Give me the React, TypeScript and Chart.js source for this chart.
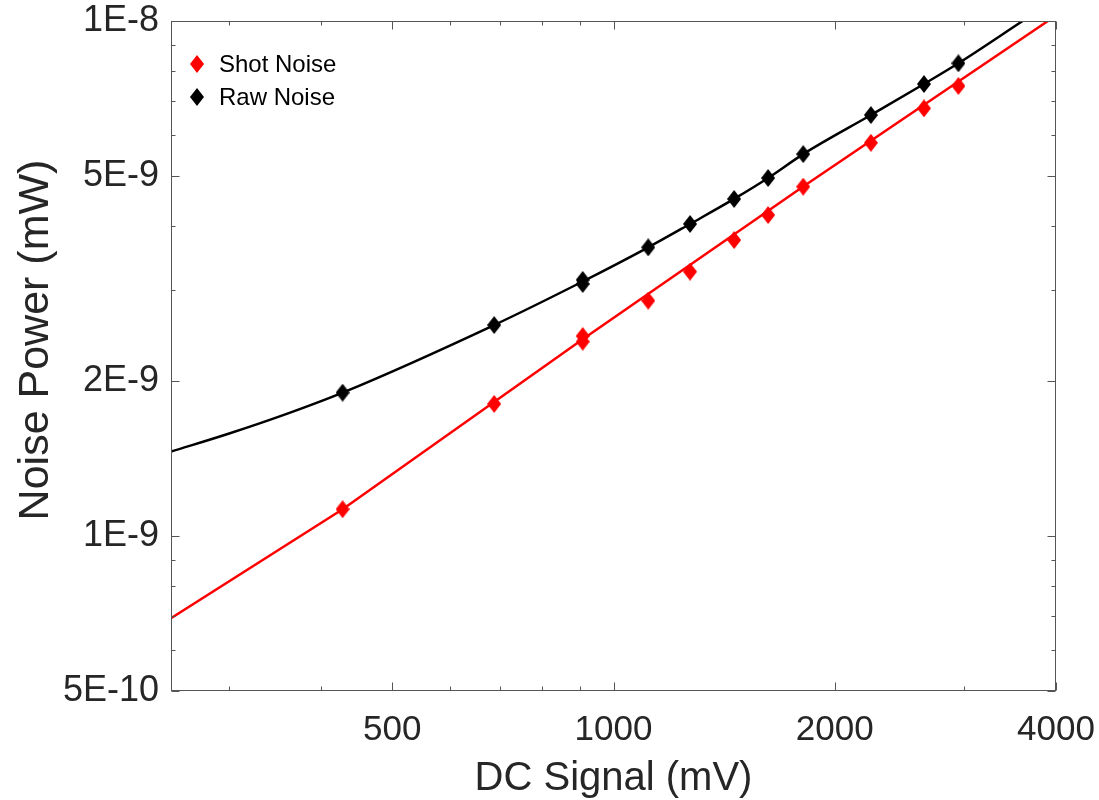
import React, { useEffect, useRef } from 'react';
import { Chart, registerables } from 'chart.js';

Chart.register(...registerables);

// ---- Data ----
const seriesNames = ['Shot Noise', 'Raw Noise'];

const signalMV = [428, 688, 908, 908, 1115, 1271, 1459, 1623, 1812, 2240, 2645, 2946];
const shotNoise = [1.127e-9, 1.805e-9, 2.384e-9, 2.445e-9, 2.864e-9, 3.26e-9, 3.756e-9, 4.2e-9, 4.768e-9, 5.801e-9, 6.767e-9, 7.478e-9];
const rawNoise = [1.898e-9, 2.568e-9, 3.142e-9, 3.086e-9, 3.635e-9, 4.035e-9, 4.513e-9, 4.956e-9, 5.515e-9, 6.568e-9, 7.545e-9, 8.277e-9];

const shotFitX = [250, 428, 908, 1812, 3900];
const shotFitY = [6.92e-10, 1.127e-9, 2.41e-9, 4.77e-9, 1e-8];
const rawFitX = [250, 300, 360, 428, 688, 908, 1115, 1271, 1459, 1623, 1812, 2240, 2645, 2946, 3603];
const rawFitY = [1.458e-9, 1.581e-9, 1.728e-9, 1.898e-9, 2.568e-9, 3.12e-9, 3.635e-9, 4.035e-9, 4.513e-9, 4.956e-9, 5.515e-9, 6.568e-9, 7.545e-9, 8.277e-9, 1e-8];

const xMajorTicks = [500, 1000, 2000, 4000];
const xMajorLabels = ['500', '1000', '2000', '4000'];
const xMinorTicks = [300, 400, 600, 700, 800, 900, 3000];
const yMajorTicks = [5e-10, 1e-9, 2e-9, 5e-9, 1e-8];
const yMajorLabels = ['5E-10', '1E-9', '2E-9', '5E-9', '1E-8'];
const yMinorTicks = [6e-10, 7e-10, 8e-10, 9e-10, 3e-9, 4e-9, 6e-9, 7e-9, 8e-9, 9e-9];

const xTitle = 'DC Signal (mV)';
const yTitle = 'Noise Power (mW)';

const seriesColors = ['#ff0000', '#000000'];
const FONT = '"Liberation Sans", Arial, Helvetica, sans-serif';
const TEXT = '#262626';

function labelFor(v: number, ticks: number[], labels: string[]) {
  for (let i = 0; i < ticks.length; i++) {
    if (Math.abs(v - ticks[i]) <= ticks[i] * 1e-6) return labels[i];
  }
  return '';
}

function makeDiamond(color: string) {
  const c = document.createElement('canvas');
  c.width = 14;
  c.height = 18;
  const g = c.getContext('2d')!;
  g.fillStyle = color;
  g.beginPath();
  g.moveTo(7, 0);
  g.lineTo(14, 9);
  g.lineTo(7, 18);
  g.lineTo(0, 9);
  g.closePath();
  g.fill();
  return c;
}

const framePlugin = {
  id: 'matlabFrame',
  afterDatasetsDraw(chart: any) {
    const { ctx, chartArea, scales } = chart;
    const l = Math.round(chartArea.left) + 0.5;
    const r = Math.round(chartArea.right) - 0.5;
    const t = Math.round(chartArea.top) + 0.5;
    const b = Math.round(chartArea.bottom) - 0.5;
    ctx.save();
    ctx.strokeStyle = '#555555';
    ctx.lineWidth = 1;
    ctx.strokeRect(l, t, r - l, b - t);
    const drawX = (vals: number[], len: number) => {
      vals.forEach((v) => {
        const px = Math.round(scales.x.getPixelForValue(v)) + 0.5;
        ctx.beginPath();
        ctx.moveTo(px, b);
        ctx.lineTo(px, b - len);
        ctx.moveTo(px, t);
        ctx.lineTo(px, t + len);
        ctx.stroke();
      });
    };
    const drawY = (vals: number[], len: number) => {
      vals.forEach((v) => {
        const py = Math.round(scales.y.getPixelForValue(v)) + 0.5;
        ctx.beginPath();
        ctx.moveTo(l, py);
        ctx.lineTo(l + len, py);
        ctx.moveTo(r, py);
        ctx.lineTo(r - len, py);
        ctx.stroke();
      });
    };
    drawX(xMajorTicks, 8);
    drawX(xMinorTicks, 4);
    drawY(yMajorTicks, 8);
    drawY(yMinorTicks, 4);

    // legend (inside upper-left)
    const rows = [64, 97];
    seriesNames.forEach((name, i) => {
      const cy = rows[i];
      const cx = 197;
      ctx.fillStyle = seriesColors[i];
      ctx.beginPath();
      ctx.moveTo(cx, cy - 9);
      ctx.lineTo(cx + 7, cy);
      ctx.lineTo(cx, cy + 9);
      ctx.lineTo(cx - 7, cy);
      ctx.closePath();
      ctx.fill();
      ctx.fillStyle = '#000000';
      ctx.font = `24px ${FONT}`;
      ctx.textBaseline = 'middle';
      ctx.textAlign = 'left';
      ctx.fillText(name, 219, cy + 1);
    });

    // y axis title
    ctx.save();
    ctx.translate(48, 340);
    ctx.rotate(-Math.PI / 2);
    ctx.fillStyle = TEXT;
    ctx.font = `43px ${FONT}`;
    ctx.textAlign = 'center';
    ctx.textBaseline = 'alphabetic';
    ctx.fillText(yTitle, 0, 0);
    ctx.restore();

    ctx.restore();
  },
};

export default function App() {
  const ref = useRef<HTMLCanvasElement | null>(null);

  useEffect(() => {
    if (!ref.current) return;
    const redD = makeDiamond(seriesColors[0]);
    const blackD = makeDiamond(seriesColors[1]);
    const chart = new Chart(ref.current, {
      type: 'scatter',
      data: {
        datasets: [
          {
            label: seriesNames[0],
            data: signalMV.map((x, i) => ({ x, y: shotNoise[i] })),
            pointStyle: redD as any,
            pointRadius: 9,
            backgroundColor: seriesColors[0],
            borderColor: seriesColors[0],
            showLine: false,
          },
          {
            label: seriesNames[1],
            data: signalMV.map((x, i) => ({ x, y: rawNoise[i] })),
            pointStyle: blackD as any,
            pointRadius: 9,
            backgroundColor: seriesColors[1],
            borderColor: seriesColors[1],
            showLine: false,
          },
          {
            label: 'Shot fit',
            data: shotFitX.map((x, i) => ({ x, y: shotFitY[i] })),
            showLine: true,
            borderColor: seriesColors[0],
            borderWidth: 2.5,
            pointRadius: 0,
          },
          {
            label: 'Raw fit',
            data: rawFitX.map((x, i) => ({ x, y: rawFitY[i] })),
            showLine: true,
            borderColor: seriesColors[1],
            borderWidth: 2.5,
            pointRadius: 0,
            cubicInterpolationMode: 'monotone',
          } as any,
        ],
      },
      options: {
        responsive: false,
        animation: false,
        devicePixelRatio: 1,
        layout: { padding: { left: 0, top: 21, right: 43, bottom: 0 } },
        plugins: { legend: { display: false }, tooltip: { enabled: false } },
        scales: {
          x: {
            type: 'logarithmic',
            position: 'bottom',
            min: 250,
            max: 4000,
            bounds: 'data',
            afterBuildTicks: (s: any) => {
              s.ticks = [...xMajorTicks, ...xMinorTicks].sort((a, b) => a - b).map((v) => ({ value: v }));
            },
            afterFit: (s: any) => {
              s.height = 109;
              s.paddingLeft = 0;
              s.paddingRight = 0;
            },
            grid: { display: false, drawTicks: false },
            border: { display: false },
            ticks: {
              autoSkip: false,
              maxRotation: 0,
              minRotation: 0,
              padding: 18,
              color: TEXT,
              font: { family: FONT, size: 35 },
              callback: (v: any) => labelFor(Number(v), xMajorTicks, xMajorLabels),
            },
            title: {
              display: true,
              text: xTitle,
              color: TEXT,
              font: { family: FONT, size: 40, lineHeight: 1 },
              padding: { top: 0, bottom: 1 },
            },
          } as any,
          y: {
            type: 'logarithmic',
            position: 'left',
            min: 5e-10,
            max: 1e-8,
            bounds: 'data',
            afterBuildTicks: (s: any) => {
              s.ticks = [...yMajorTicks, ...yMinorTicks].sort((a, b) => a - b).map((v) => ({ value: v }));
            },
            afterFit: (s: any) => {
              s.width = 171;
              s.paddingTop = 0;
              s.paddingBottom = 0;
            },
            grid: { display: false, drawTicks: false },
            border: { display: false },
            ticks: {
              autoSkip: false,
              padding: 12,
              color: TEXT,
              font: { family: FONT, size: 36 },
              callback: (v: any) => labelFor(Number(v), yMajorTicks, yMajorLabels),
            },
            title: { display: false },
          } as any,
        },
      },
      plugins: [framePlugin],
    });
    return () => chart.destroy();
  }, []);

  return (
    <div style={{ position: 'absolute', left: 0, top: 0, width: 1099, height: 800, background: '#ffffff' }}>
      <canvas ref={ref} width={1099} height={800} style={{ display: 'block' }} />
    </div>
  );
}
